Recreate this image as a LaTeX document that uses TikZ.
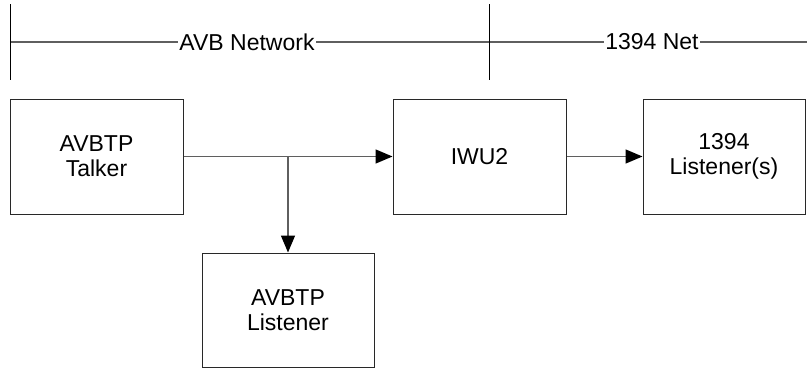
\documentclass[tikz,border=0pt]{standalone}
\usepackage{fontspec}
\setmainfont{Liberation Sans}
\usetikzlibrary{arrows.meta}
\definecolor{wire}{RGB}{95,95,95}
\definecolor{edge}{RGB}{40,40,40}
\tikzset{
  block/.style={draw=edge, line width=1pt, minimum width=173pt, minimum height=115pt,
                inner sep=0pt, align=center, font=\fontsize{23}{25}\selectfont},
  feed/.style={draw=wire, line width=1.5pt, -{Triangle[length=17pt,width=14pt,color=black]}},
  netline/.style={draw=wire, line width=1.5pt},
  tick/.style={draw=black, line width=1pt},
  netlabel/.style={fill=white, inner xsep=1pt, inner ysep=2pt, font=\fontsize{23}{25}\selectfont}
}
\begin{document}
\begin{tikzpicture}[x=1pt,y=-1pt]
  \useasboundingbox (0,0) rectangle (807,372);

  % network ranges
  \coordinate (t1a) at (10,4);   \coordinate (t1b) at (10,80);
  \coordinate (t2a) at (489,4);  \coordinate (t2b) at (489,80);
  \coordinate (nl) at (10,42);   \coordinate (nr) at (807,42);
  \draw[netline] (nl) -- (nr);
  \draw[tick] (t1a) -- (t1b);
  \draw[tick] (t2a) -- (t2b);
  \node[netlabel] (avbnet) at (247,42) {AVB Network};
  \node[netlabel] (fwnet) at (652,42) {1394 Net};

  % blocks
  \node[block] (talker) at (96.5,156.5) {AVBTP\\Talker};
  \node[block] (iwu) at (479.5,156.5) {IWU2};
  \node[block, minimum width=162pt] (fwlist) at (724,156.5) {1394\\Listener(s)};
  \node[block, minimum width=172pt, minimum height=114pt] (avblist) at (288,310) {AVBTP\\Listener};

  % connections
  \coordinate (split) at (288,156.5);
  \draw[feed] (talker.east) -- (iwu.west);
  \draw[feed] (split) -- (avblist.north);
  \draw[feed] (iwu.east) -- (fwlist.west);
\end{tikzpicture}
\end{document}
